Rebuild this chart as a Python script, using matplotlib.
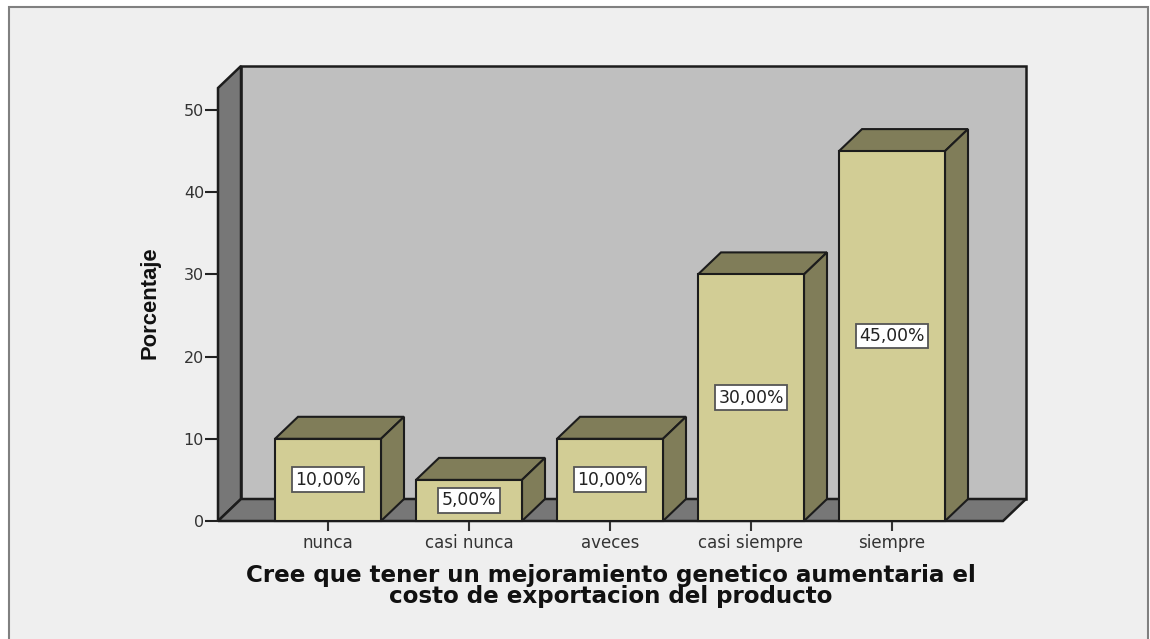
import matplotlib
matplotlib.use('Agg')
import matplotlib.pyplot as plt
from matplotlib.patches import Rectangle

categories = ['nunca', 'casi nunca', 'aveces', 'casi siempre', 'siempre']
values = [10, 5, 10, 30, 45]
value_labels = ['10,00%', '5,00%', '10,00%', '30,00%', '45,00%']
yticks = [0, 10, 20, 30, 40, 50]
ylabel = 'Porcentaje'
xlabel = 'Cree que tener un mejoramiento genetico aumentaria el\ncosto de exportacion del producto'

W, H = 1150, 639
bar_face = '#d2cd95'
bar_side = '#807d59'
wall_back = '#bfbfbf'
wall_side = '#777777'
frame_bg = '#efefef'
edge = '#1c1c1c'

plt.rcParams['font.family'] = ['DejaVu Sans']

fig = plt.figure(figsize=(W/100, H/100), dpi=100, facecolor='white')

# grey panel behind the chart, its bottom edge runs off the image
fig.add_artist(Rectangle((9/W, -10/H), 1139/W, (632+10)/H, transform=fig.transFigure,
                         facecolor=frame_bg, edgecolor='#808080', lw=1.5, zorder=-1))

ax = fig.add_axes([218/W, 1-521/H, 808/W, 455/H])
ax.set_xlim((218-328)/141, (1026-328)/141)
ax.set_ylim(0, 455/8.22)
ax.patch.set_alpha(0)
for s in ax.spines.values():
    s.set_visible(False)

# 3d depth in data units
dx = 23/141
dy = 22/8.22
x0 = ax.get_xlim()[0]
x1 = ax.get_xlim()[1] - dx
y1 = ax.get_ylim()[1]

# walls
ax.fill([x0+dx, x1+dx, x1+dx, x0+dx], [dy, dy, y1, y1], facecolor=wall_back, edgecolor=edge, lw=1.8, zorder=1, clip_on=False)
ax.fill([x0, x0+dx, x0+dx, x0], [0, dy, y1, y1-dy], facecolor=wall_side, edgecolor=edge, lw=1.8, zorder=1.5, clip_on=False)
ax.fill([x0, x1, x1+dx, x0+dx], [0, 0, dy, dy], facecolor=wall_side, edgecolor=edge, lw=1.8, zorder=1.5, clip_on=False)

w = 106/141
xs = list(range(len(values)))
for x, v, t in zip(xs, values, value_labels):
    l, r = x-w/2, x+w/2
    ax.fill([l, r, r+dx, l+dx], [v, v, v+dy, v+dy], facecolor=bar_side, edgecolor=edge, lw=1.5, zorder=3, clip_on=False)
    ax.fill([r, r+dx, r+dx, r], [0, dy, v+dy, v], facecolor=bar_side, edgecolor=edge, lw=1.5, zorder=3, clip_on=False)
    ax.bar(x, v, width=w, color=bar_face, edgecolor=edge, lw=1.5, zorder=4, clip_on=False)
    ax.text(x, v/2, t, ha='center', va='center', fontsize=12.4, color='#222222', zorder=5,
            bbox=dict(boxstyle='square,pad=0.2', facecolor='white', edgecolor='#555555', lw=1.3))

ax.set_xticks(xs)
ax.set_xticklabels(categories, fontsize=12, color='#333333')
ax.set_yticks(yticks)
ax.set_yticklabels([str(t) for t in yticks], fontsize=11.5, color='#333333')
ax.tick_params(axis='x', length=7.5, width=1.5, color='#333333', pad=2)
ax.tick_params(axis='y', length=9.5, width=1.5, color='#222222', pad=0.5)

fig.text(150/W, 1-303/H, ylabel, rotation=90, ha='center', va='center', fontsize=15.8, fontweight='bold',
         color='#111111', family=['Liberation Sans Narrow', 'Liberation Sans'])
fig.text(611/W, 1-586/H, xlabel, ha='center', va='center', fontsize=16.6, fontweight='bold',
         color='#111111', family='DejaVu Sans', linespacing=0.93)

fig.savefig('out.png', dpi=100, facecolor='white')
